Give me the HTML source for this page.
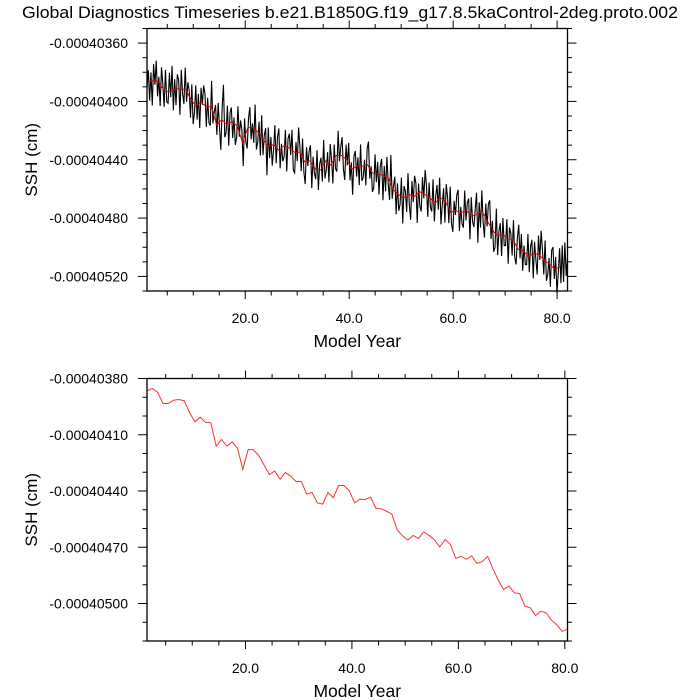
<!DOCTYPE html>
<html><head><meta charset="utf-8"><style>
html,body{margin:0;padding:0;background:#fff;}
svg{display:block;font-family:"Liberation Sans",sans-serif;}
</style></head><body>
<svg id="chart" width="700" height="700" viewBox="0 0 700 700">
<text x="350" y="18" text-anchor="middle" font-size="16.5" textLength="656" lengthAdjust="spacingAndGlyphs">Global Diagnostics Timeseries b.e21.B1850G.f19_g17.8.5kaControl-2deg.proto.002</text>
</svg>
<script>
const annualYears = [];
for (let i = 0; i < 80; i++) annualYears.push(1.5 + i);
const annualSSH = [386.6,385.3,387.3,393.3,393.3,391.6,391.2,391.9,398.3,403.1,400.6,403.5,403.6,416.1,412.5,416.1,413.8,417.2,428.5,417.9,418.0,421.1,426.2,431.2,429.4,433.7,430.1,432.1,434.9,434.9,441.7,440.8,446.3,447.0,440.8,443.6,437.1,437.1,439.9,446.3,444.4,444.5,443.3,449.2,449.5,450.8,452.4,460.7,463.9,466.2,463.7,465.3,461.8,463.7,466.0,469.8,465.9,468.4,476.0,474.8,476.4,474.6,478.7,477.6,474.9,481.5,487.6,492.5,490.7,494.3,494.7,501.4,502.3,506.4,504.1,505.0,508.9,511.4,514.9,513.7];
const subDev = [
 4,-8,13,-6, 17,-11,3,-14, 10,-4,15,-13, -3,11,-15,7,
 8,-13,4,-17, 14,-7,11,-10, -6,18,-13,3, 10,-15,7,-8,
 -4,13,-11,15, 6,-14,10,-7, 17,-10,1,-13, -8,14,-6,11,
 13,-18,8,-3, -11,7,-14,4, 20,-8,-25,10, 6,-13,15,-7,
 -10,11,-4,14, 8,-15,3,-11, -7,17,-13,6, 13,-6,-14,8,
 -3,10,-17,13, 7,-8,14,-15, 11,-4,-10,21, -13,8,-6,14,
 4,-14,11,-8, -15,13,-3,10, 8,-11,17,-6, -10,4,-14,13,
 14,-7,6,-17, -4,11,-13,8, 15,-10,3,-7, -11,17,-6,4,
 7,-13,14,-4, -8,10,-17,11, 6,-7,13,-14, -3,15,-10,8,
 11,-17,4,-6, -13,8,15,-10, 3,-14,10,-4, 18,-8,-11,7,
 -6,13,-15,10, 8,-4,14,-11, -17,7,-3,13, 10,-13,6,-8,
 14,-6,-11,17, -7,10,-14,4, 13,-20,8,-3, -10,15,-7,11,
 6,-13,18,-8, -4,11,-15,7, 17,-10,4,-14, -8,20,-6,10,
 13,-11,3,-17, -7,14,-10,6, 8,-15,13,-4, -11,7,-14,18,
 4,-8,15,-13, -6,10,-17,8, 14,-7,3,-11, -15,13,-4,8,
 11,-14,7,-6, -10,17,-13,4, 8,-4,-15,20, -7,11,-14,6,
 15,-10,4,-13, -17,8,-6,14, 10,-18,13,-3, -8,15,-11,7,
 6,-13,17,-8, -4,11,-14,10, 13,-7,-17,6, -11,14,-4,8,
 7,-15,11,-6, -10,17,-8,4, 14,-13,3,-18, -6,10,-14,13,
 8,-4,15,-11, -14,7,-8,17, 4,-13,11,-15, 10,-17,6,-7
];
const topTicks = [-403.60,-404.00,-404.40,-404.80,-405.20];
const topTickLabels = ["-0.00040360","-0.00040400","-0.00040440","-0.00040480","-0.00040520"];
const botTicks = [-403.80,-404.10,-404.40,-404.70,-405.00];
const botTickLabels = ["-0.00040380","-0.00040410","-0.00040440","-0.00040470","-0.00040500"];
const xTicks = [20,40,60,80];
const xTickLabels = ["20.0","40.0","60.0","80.0"];

const NS = "http://www.w3.org/2000/svg";
const svg = document.getElementById("chart");
function el(tag, attrs, parent) {
  const e = document.createElementNS(NS, tag);
  for (const k in attrs) e.setAttribute(k, attrs[k]);
  (parent || svg).appendChild(e);
  return e;
}
function val(m) { return -(400 + m / 100); }

function makePanel(cfg) {
  const g = el("g", {});
  
  
  const L = cfg.left, R = cfg.right, T = cfg.top, B = cfg.bottom;
  const xs = v => L + (v - cfg.xmin) / (cfg.xmax - cfg.xmin) * (R - L);
  const ys = v => T + (cfg.ymax - v) / (cfg.ymax - cfg.ymin) * (B - T);
  if (cfg.black) {
    const pts = cfg.black.map(p => xs(p[0]).toFixed(2) + "," + ys(p[1]).toFixed(2)).join(" ");
    const pl = el("polyline", {points: pts, fill: "none", stroke: "#000", "stroke-width": "1.1", "stroke-linejoin": "miter"}, g);
    
    
  }
  const rpts = annualYears.map((yr, i) => xs(yr).toFixed(2) + "," + ys(val(annualSSH[i])).toFixed(2)).join(" ");
  const rl = el("polyline", {points: rpts, fill: "none", stroke: cfg.redColor, "stroke-width": "1"}, g);
  
  
  const fr = el("rect", {x: L, y: T, width: R - L, height: B - T, fill: "none", stroke: "#000", "stroke-width": "1.3"}, g);
  
  
  for (let v = 5; v < cfg.xmax; v += 5) {
    if (v < cfg.xmin) continue;
    const x = xs(v), major = v % 20 === 0, len = major ? 8 : 4.5;
    el("line", {x1: x, x2: x, y1: T, y2: T - len, stroke: "#000", "stroke-width": 1}, g);
    el("line", {x1: x, x2: x, y1: B, y2: B + len, stroke: "#000", "stroke-width": 1}, g);
  }
  xTicks.forEach((v, i) => {
    const t = el("text", {x: xs(v), y: B + 32, "text-anchor": "middle", "font-size": 14}, g);
    t.textContent = xTickLabels[i];
    
    
  });
  for (let k = Math.ceil(cfg.ymin / cfg.minor - 1e-6); k * cfg.minor <= cfg.ymax + 1e-6; k++) {
    const v = k * cfg.minor, y = ys(v);
    const major = cfg.ticks.some(t => Math.abs(t - v) < 1e-6), len = major ? 9 : 4.5;
    el("line", {x1: L, x2: L - len, y1: y, y2: y, stroke: "#000", "stroke-width": 1}, g);
    el("line", {x1: R, x2: R + len, y1: y, y2: y, stroke: "#000", "stroke-width": 1}, g);
  }
  cfg.ticks.forEach((v, i) => {
    const t = el("text", {x: 128, y: ys(v) + 5, "text-anchor": "end", "font-size": 14}, g);
    t.textContent = cfg.labels[i];
    
    
  });
  const yt = el("text", {x: 0, y: 0, "text-anchor": "middle", "font-size": 17, transform: "translate(37," + ((T + B) / 2) + ") rotate(-90)"}, g);
  yt.textContent = "SSH (cm)";
  
  
  const xt = el("text", {x: (L + R) / 2, y: B + 56, "text-anchor": "middle", "font-size": 17.5}, g);
  xt.textContent = "Model Year";
  
  
}

const black = [];
for (let i = 0; i < subDev.length; i++) {
  const yr = 1.1 + i * (80.9 / (subDev.length - 1));
  let j = Math.min(79, Math.max(0, Math.floor(yr - 1.5)));
  let j2 = Math.min(79, j + 1);
  let f = Math.min(1, Math.max(0, yr - annualYears[j]));
  const m = annualSSH[j] * (1 - f) + annualSSH[j2] * f + subDev[i];
  black.push([yr, val(m)]);
}

makePanel({name: "top-panel", left: 147, right: 567.5, top: 28.5, bottom: 291,
  xmin: 1.1, xmax: 82, ymin: -405.30, ymax: -403.50, minor: 0.10,
  ticks: topTicks, labels: topTickLabels, black: black, redColor: "#e00000"});
makePanel({name: "bottom-panel", left: 147, right: 567.5, top: 378.5, bottom: 641,
  xmin: 1.5, xmax: 80.5, ymin: -405.20, ymax: -403.80, minor: 0.10,
  ticks: botTicks, labels: botTickLabels, black: null, redColor: "#ff3030"});
</script>
</body></html>
